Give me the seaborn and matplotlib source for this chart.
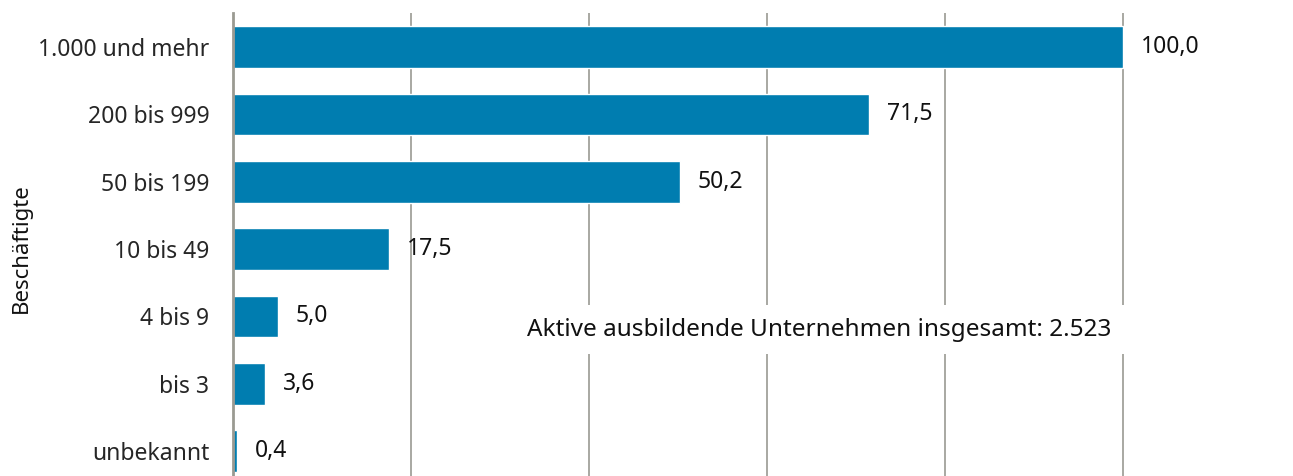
import matplotlib
matplotlib.use('Agg')
import matplotlib.pyplot as plt
import seaborn as sns
import pandas as pd

categories = ['1.000 und mehr', '200 bis 999', '50 bis 199', '10 bis 49', '4 bis 9', 'bis 3', 'unbekannt']
values = [100.0, 71.5, 50.2, 17.5, 5.0, 3.6, 0.4]
value_labels = ['100,0', '71,5', '50,2', '17,5', '5,0', '3,6', '0,4']
note = 'Aktive ausbildende Unternehmen insgesamt: 2.523'

df = pd.DataFrame({'kategorie': categories, 'wert': values})

sns.set_style('white')
plt.rcParams['font.family'] = ['Noto Sans', 'DejaVu Sans']

fig = plt.figure(figsize=(12.93, 4.76), dpi=100)
ax = fig.add_axes([233 / 1293, 0, 1 - 233 / 1293, 1 - 13.4 / 476])

sns.barplot(data=df, x='wert', y='kategorie', color='#007DB0', saturation=1,
            width=0.62, ax=ax, zorder=2)

ax.set_xlim(0, 119.1)
ax.set_ylim(6.37, -0.5)
ax.set_xticks([20, 40, 60, 80, 100])
ax.xaxis.grid(True, color='#9a9a92', linewidth=1.2, zorder=0)
ax.set_axisbelow(True)
ax.tick_params(axis='x', length=0, labelbottom=False)
ax.tick_params(axis='y', length=0, labelsize=16.5, pad=17)
ax.set_xlabel('')
ax.set_ylabel('')
for s in ['top', 'right', 'bottom']:
    ax.spines[s].set_visible(False)
ax.spines['left'].set_color('#9a9a92')
ax.spines['left'].set_linewidth(2)

# y-Achsentitel frei gesetzt, damit er nicht abgeschnitten wird
fig.text(21 / 1293, 1 - 248 / 476, 'Beschäftigte', rotation=90,
         ha='center', va='center', fontsize=16, color='#111111')

for i, (v, lab) in enumerate(zip(values, value_labels)):
    ax.annotate(lab, (v, i), xytext=(13, 0), textcoords='offset points',
                va='center', ha='left', fontsize=16.5, color='#111111')

ax.text(0.553, 0.316, note, transform=ax.transAxes, ha='center', va='center',
        fontsize=17.5, color='#111111',
        bbox=dict(facecolor='white', edgecolor='none', pad=9))

fig.savefig('out.png', dpi=100)
